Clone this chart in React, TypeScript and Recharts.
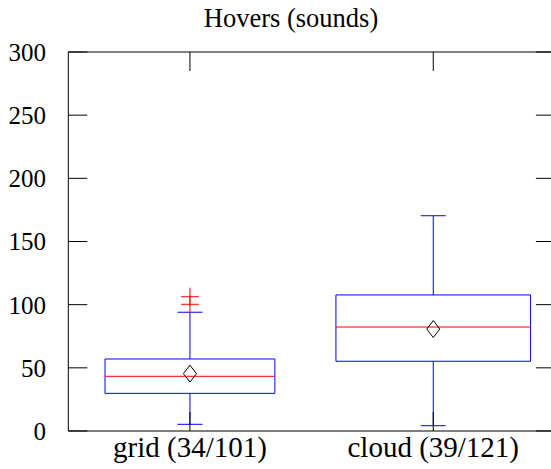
import React from "react";
import {
  ComposedChart,
  Scatter,
  XAxis,
  YAxis,
  ReferenceArea,
  ReferenceLine,
} from "recharts";

// categories + box statistics
const categories = ["grid (34/101)", "cloud (39/121)"];
const positions = [1, 2];
const lowerWhisker = [5.3, 4.2];
const q1 = [29.8, 55.2];
const median = [43.3, 82.3];
const q3 = [57, 107.7];
const upperWhisker = [94, 170.4];
const means = [45.4, 80.7];
const outliers = [[100.3, 106.3], []];
const yTicks = [0, 50, 100, 150, 200, 250, 300];

// box half widths (x units), whisker cap half width
const boxHalf = [0.349, 0.4];
const capHalf = 0.0514;

const BLUE = "#0000ff";
const RED = "#ff0000";
const FONT = "'Liberation Serif', serif";

const meanData = positions.map((x, i) => ({ x, y: means[i] }));
const outlierData = positions.flatMap((x, i) =>
  outliers[i].map((y) => ({ x, y })),
);

const Diamond = (props: any) => {
  const { cx, cy } = props;
  return (
    <path
      d={`M${cx},${cy - 8.5}L${cx + 6.5},${cy}L${cx},${cy + 8.5}L${cx - 6.5},${cy}Z`}
      fill="none"
      stroke="#000"
      strokeWidth={1}
    />
  );
};

const Plus = (props: any) => {
  const { cx, cy } = props;
  return (
    <path
      d={`M${cx - 9},${cy}H${cx + 9}M${cx},${cy - 9}V${cy + 9}`}
      stroke={RED}
      strokeWidth={1}
      fill="none"
    />
  );
};

const Nothing = () => <g />;
const noLabel = () => "";

export default function App() {
  const ids = { xAxisId: "bottom", yAxisId: "left" };

  return (
    <div
      style={{
        position: "fixed",
        left: 0,
        top: 0,
        width: 551,
        height: 469,
        overflow: "hidden",
        background: "#fff",
        fontFamily: FONT,
      }}
    >
      {/* title */}
      <div
        style={{
          position: "absolute",
          left: 141,
          width: 300,
          top: 3,
          textAlign: "center",
          fontSize: 26.5,
          lineHeight: "30px",
          color: "#000",
          whiteSpace: "nowrap",
        }}
      >
        Hovers (sounds)
      </div>
      <ComposedChart
        width={560}
        height={469}
        margin={{ top: 51, right: 4.1, bottom: 0, left: 0 }}
        style={{ fontFamily: FONT }}
      >
        {/* axes: ticks point inwards */}
        <XAxis
          xAxisId="bottom"
          type="number"
          dataKey="x"
          domain={[0.5, 2.5]}
          ticks={positions}
          allowDataOverflow
          height={38}
          tickSize={-19}
          tickMargin={24.5}
          tickFormatter={(v) => categories[positions.indexOf(v)] ?? ""}
          tick={{ fontSize: 29, fill: "#000", fontFamily: FONT }}
          axisLine={{ stroke: "#000" }}
          tickLine={{ stroke: "#000" }}
        />
        <XAxis
          xAxisId="top"
          orientation="top"
          type="number"
          dataKey="x"
          domain={[0.5, 2.5]}
          ticks={positions}
          allowDataOverflow
          height={1}
          tickSize={-19}
          tickFormatter={noLabel}
          tick={{ fill: "none" }}
          axisLine={{ stroke: "#000" }}
          tickLine={{ stroke: "#000" }}
        />
        <YAxis
          yAxisId="left"
          type="number"
          dataKey="y"
          domain={[0, 300]}
          ticks={yTicks}
          allowDataOverflow
          width={68.3}
          tickSize={-19}
          tickMargin={41.3}
          tick={{ fontSize: 25, fill: "#000", fontFamily: FONT }}
          axisLine={{ stroke: "#000" }}
          tickLine={{ stroke: "#000" }}
        />
        <YAxis
          yAxisId="right"
          orientation="right"
          type="number"
          dataKey="y"
          domain={[0, 300]}
          ticks={yTicks}
          allowDataOverflow
          width={1}
          tickSize={-19}
          tickFormatter={noLabel}
          tick={{ fill: "none" }}
          axisLine={false}
          tickLine={{ stroke: "#000" }}
        />

        {/* boxes */}
        {positions.map((x, i) => (
          <ReferenceArea
            key={`box-${i}`}
            {...ids}
            x1={x - boxHalf[i]}
            x2={x + boxHalf[i]}
            y1={q1[i]}
            y2={q3[i]}
            fill="none"
            fillOpacity={0}
            stroke={BLUE}
            strokeWidth={1}
            strokeOpacity={1}
          />
        ))}

        {/* whiskers */}
        {positions.map((x, i) => (
          <ReferenceLine
            key={`wu-${i}`}
            {...ids}
            segment={[
              { x, y: q3[i] },
              { x, y: upperWhisker[i] },
            ]}
            stroke={BLUE}
          />
        ))}
        {positions.map((x, i) => (
          <ReferenceLine
            key={`wl-${i}`}
            {...ids}
            segment={[
              { x, y: lowerWhisker[i] },
              { x, y: q1[i] },
            ]}
            stroke={BLUE}
          />
        ))}
        {positions.map((x, i) => (
          <ReferenceLine
            key={`cu-${i}`}
            {...ids}
            segment={[
              { x: x - capHalf, y: upperWhisker[i] },
              { x: x + capHalf, y: upperWhisker[i] },
            ]}
            stroke={BLUE}
          />
        ))}
        {positions.map((x, i) => (
          <ReferenceLine
            key={`cl-${i}`}
            {...ids}
            segment={[
              { x: x - capHalf, y: lowerWhisker[i] },
              { x: x + capHalf, y: lowerWhisker[i] },
            ]}
            stroke={BLUE}
          />
        ))}

        {/* medians */}
        {positions.map((x, i) => (
          <ReferenceLine
            key={`med-${i}`}
            {...ids}
            segment={[
              { x: x - boxHalf[i], y: median[i] },
              { x: x + boxHalf[i], y: median[i] },
            ]}
            stroke={RED}
          />
        ))}

        <Scatter
          {...ids}
          data={meanData}
          dataKey="y"
          shape={Diamond}
          isAnimationActive={false}
        />
        <Scatter
          {...ids}
          data={outlierData}
          dataKey="y"
          shape={Plus}
          isAnimationActive={false}
        />
        {/* invisible series so the mirrored top/right axes get drawn */}
        <Scatter
          xAxisId="top"
          yAxisId="right"
          data={meanData}
          dataKey="y"
          shape={Nothing}
          isAnimationActive={false}
        />
      </ComposedChart>
    </div>
  );
}
